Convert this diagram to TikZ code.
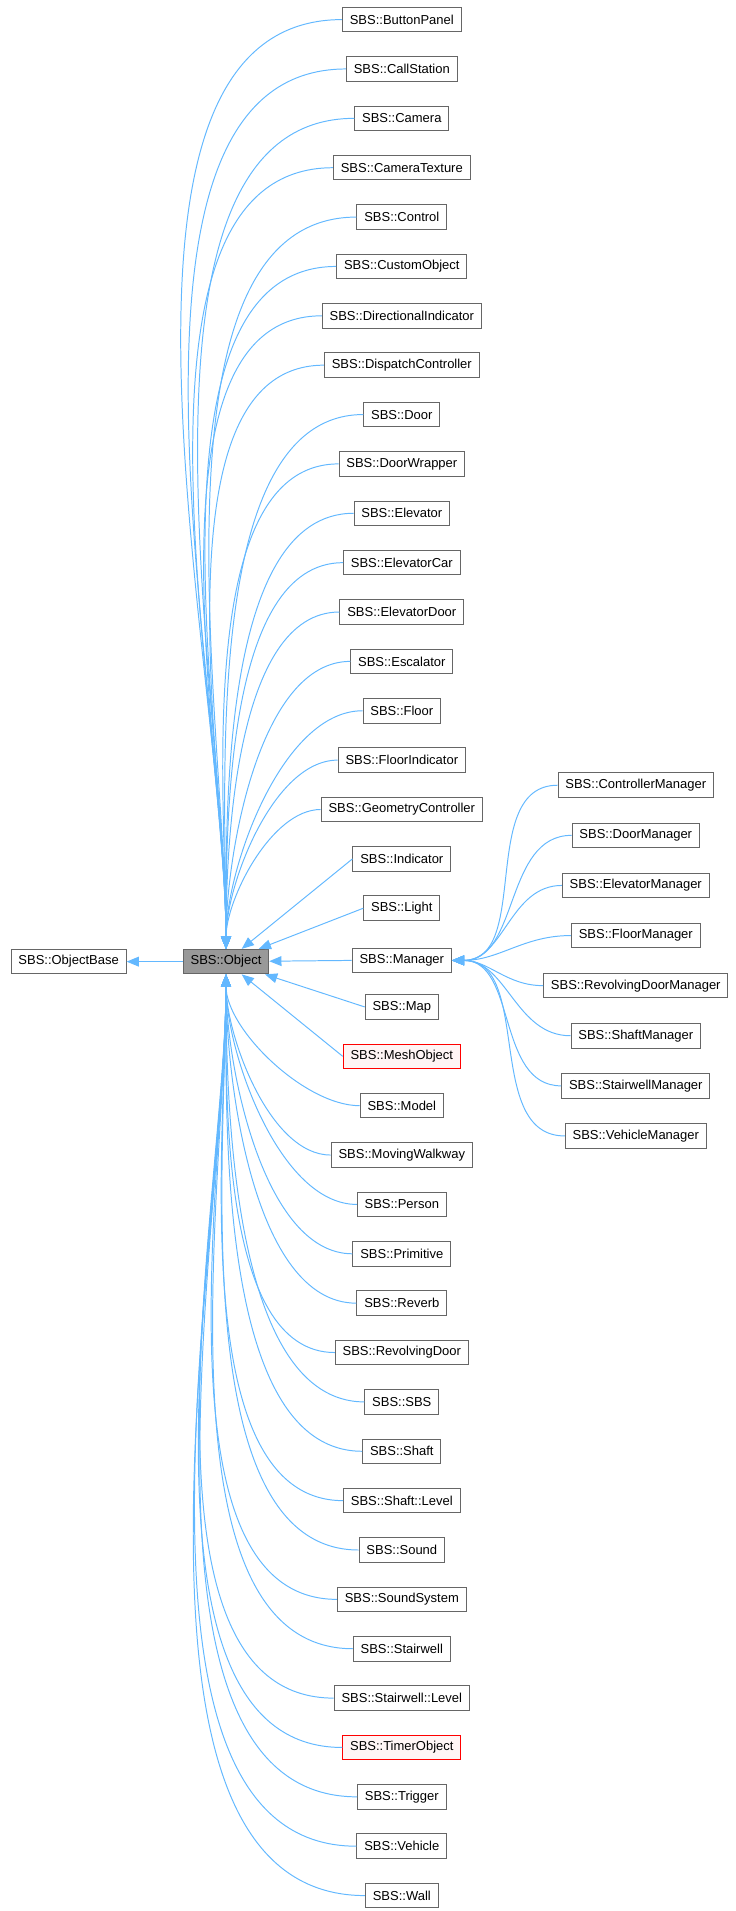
\documentclass[tikz,border=0pt]{standalone}
\usepackage{fontspec}
\setmainfont{Liberation Sans}
\usetikzlibrary{arrows.meta}
\definecolor{edgec}{HTML}{63B8FF}
\begin{document}
\begin{tikzpicture}[x=1pt,y=-1pt,
  box/.style={draw=black!60,fill=white,inner xsep=6pt,minimum height=20pt,font=\fontsize{10.6}{12}\selectfont,line width=0.8pt},
  redbox/.style={box,draw=red,fill=red!4},
  edge/.style={draw=edgec,line width=0.8pt,{Triangle[length=10pt,width=8pt]}-}]
\useasboundingbox (0,0) rectangle (600,1560);
\node[box] (base) at (56,785) {SBS::ObjectBase};
\node[box,fill=black!40] (obj) at (184.5,785) {SBS::Object};
\draw[edge] (base) -- (obj);
\foreach \t [count=\i] in {ButtonPanel,CallStation,Camera,CameraTexture,Control,CustomObject,DirectionalIndicator,DispatchController,Door,DoorWrapper,Elevator,ElevatorCar,ElevatorDoor,Escalator,Floor,FloorIndicator,GeometryController,Indicator,Light,Manager,Map,MeshObject,Model,MovingWalkway,Person,Primitive,Reverb,RevolvingDoor,SBS,Shaft,Shaft::Level,Sound,SoundSystem,Stairwell,Stairwell::Level,TimerObject,Trigger,Vehicle,Wall}{
  \pgfmathsetmacro{\yy}{16+40.3*(\i-1)}
  \ifnum\i=22 \def\st{redbox}\else\ifnum\i=36 \def\st{redbox}\else\def\st{box}\fi\fi
  \ifnum\i=20 \def\yy{784}\fi
  \node[\st] (c\i) at (328,\yy) {SBS::\t};
  \ifnum\i<18
    \draw[edge] (obj.north) to[out=90,in=180,looseness=0.75] (c\i.west);
  \else\ifnum\i>22
    \draw[edge] (obj.south) to[out=-90,in=180,looseness=0.75] (c\i.west);
  \else
    \draw[edge] (obj) -- (c\i.west);
  \fi\fi
}
\foreach \t [count=\i] in {ControllerManager,DoorManager,ElevatorManager,FloorManager,RevolvingDoorManager,ShaftManager,StairwellManager,VehicleManager}{
  \pgfmathsetmacro{\yy}{641+40.9*(\i-1)}
  \node[box] (m\i) at (519,\yy) {SBS::\t};
  \draw[edge] (c20.east) to[out=0,in=180] (m\i.west);
}
\end{tikzpicture}
\end{document}
